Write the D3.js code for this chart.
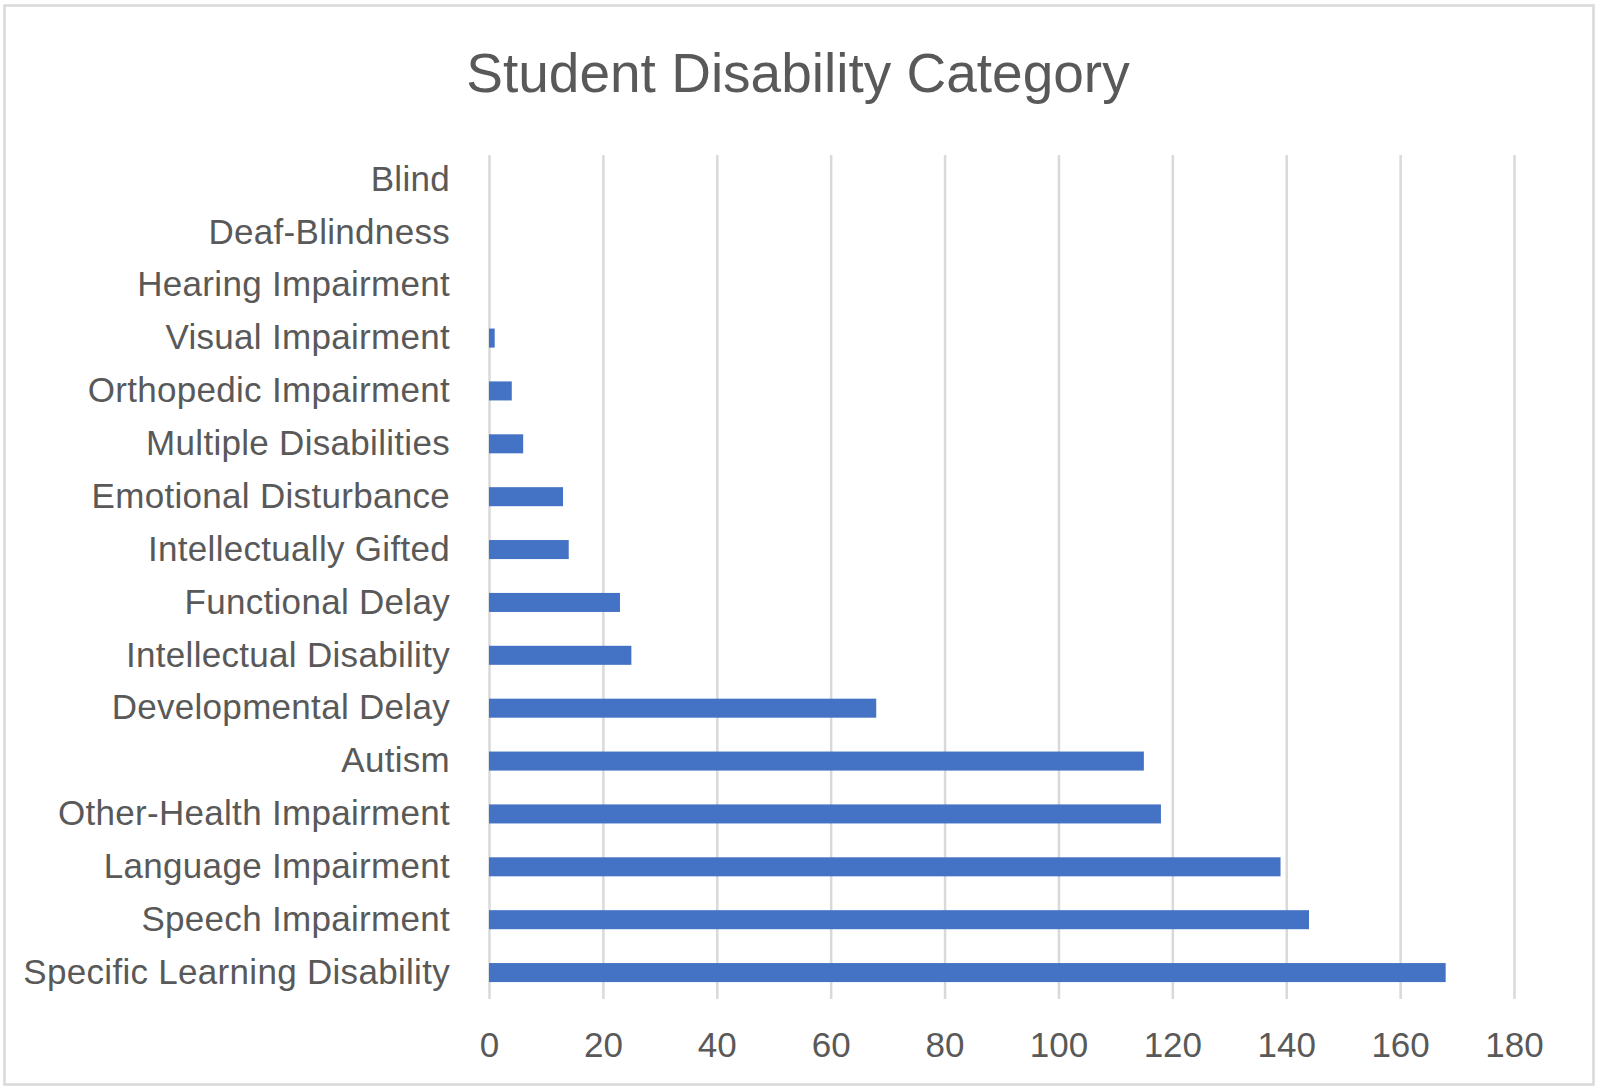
<!DOCTYPE html>
<html>
<head>
<meta charset="utf-8">
<script src="https://cdn.jsdelivr.net/npm/d3@7"></script>
<style>
  html, body { margin: 0; padding: 0; background: #fff; }
</style>
</head>
<body>
<div id="chart"></div>
<script>
// data, top row first
const categories = [
  "Blind", "Deaf-Blindness", "Hearing Impairment", "Visual Impairment",
  "Orthopedic Impairment", "Multiple Disabilities", "Emotional Disturbance",
  "Intellectually Gifted", "Functional Delay", "Intellectual Disability",
  "Developmental Delay", "Autism", "Other-Health Impairment",
  "Language Impairment", "Speech Impairment", "Specific Learning Disability"
];
const counts = [0, 0, 0, 1, 4, 6, 13, 14, 23, 25, 68, 115, 118, 139, 144, 168];
const xTicks = [0, 20, 40, 60, 80, 100, 120, 140, 160, 180];
const chartTitle = "Student Disability Category";

const W = 1598, H = 1087;
const plotL = 489, plotR = 1514, plotT = 153, plotB = 999;
const txt = "#595959", font = "'Liberation Sans', Arial, sans-serif";

const svg = d3.select("#chart").append("svg")
    .attr("width", W).attr("height", H);

svg.append("rect")
    .attr("x", 4.5).attr("y", 5.5)
    .attr("width", 1589).attr("height", 1079)
    .attr("fill", "#fff")
    .attr("stroke", "#d9d9d9")
    .attr("stroke-width", 2.5);

const x = d3.scaleLinear().domain([0, 180]).range([plotL, plotR]);
const y = d3.scaleBand().domain(categories).range([plotT, plotB])
    .paddingInner(0.64).paddingOuter(0.32);

// vertical gridlines
const grid = svg.append("g")
    .attr("transform", `translate(0,${plotB})`)
    .call(d3.axisBottom(x).tickValues(xTicks).tickSize(-(plotB - 155)).tickFormat(""));
grid.select(".domain").remove();
grid.selectAll("line").attr("stroke", "#d9d9d9").attr("stroke-width", 2.5);

// bars
svg.append("g").selectAll("rect")
    .data(categories)
    .join("rect")
    .attr("x", x(0))
    .attr("y", d => y(d))
    .attr("width", (d, i) => x(counts[i]) - x(0))
    .attr("height", y.bandwidth())
    .attr("fill", "#4472c4");

// x tick labels
const xa = svg.append("g")
    .attr("transform", `translate(0,${plotB})`)
    .call(d3.axisBottom(x).tickValues(xTicks).tickSize(0).tickPadding(33));
xa.select(".domain").remove();
xa.selectAll("text")
    .attr("fill", txt).attr("font-size", 35).attr("font-family", font);

// category labels
const ya = svg.append("g")
    .attr("transform", `translate(${plotL},0)`)
    .call(d3.axisLeft(y).tickSize(0).tickPadding(39));
ya.select(".domain").remove();
ya.selectAll("text")
    .attr("fill", txt).attr("font-size", 35).attr("font-family", font)
    .attr("letter-spacing", 0.3);

svg.append("text")
    .attr("x", 798).attr("y", 92)
    .attr("text-anchor", "middle")
    .attr("fill", txt)
    .attr("font-size", 55)
    .attr("font-family", font)
    .text(chartTitle);
</script>
</body>
</html>
